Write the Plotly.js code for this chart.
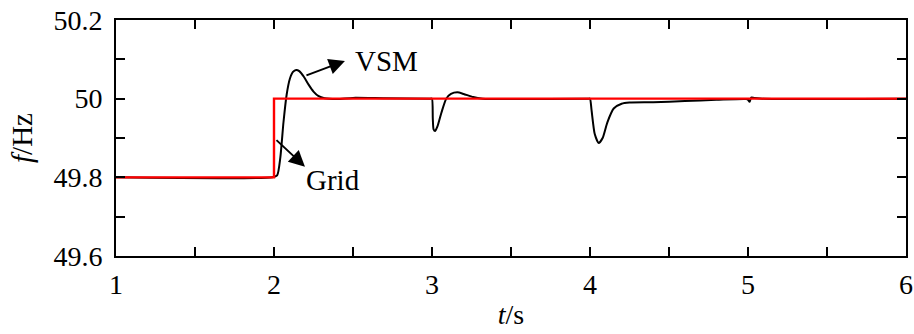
<!DOCTYPE html>
<html>
<head>
<meta charset="utf-8">
<script src="https://cdn.plot.ly/plotly-3.0.1.min.js"></script>
<style>html,body{margin:0;padding:0;background:#fff;}#chart{width:914px;height:334px;}</style>
</head>
<body>
<div id="chart"></div>
<script>
// VSM frequency response
const vsmT = [1.0, 1.99, 2.02, 2.04, 2.06, 2.08, 2.10, 2.12, 2.14, 2.16, 2.19, 2.22, 2.25, 2.28, 2.32, 2.40, 2.5, 2.7, 2.99,
  3.0, 3.005, 3.01, 3.02, 3.035, 3.06, 3.09, 3.12, 3.16, 3.2, 3.26, 3.32, 3.5, 3.99,
  4.0, 4.01, 4.03, 4.055, 4.08, 4.11, 4.15, 4.2, 4.25, 4.4, 4.6, 4.8, 4.99,
  5.0, 5.01, 5.02, 5.04, 5.1, 6.0];
const vsmF = [49.8, 49.8, 49.805, 49.85, 49.94, 50.01, 50.05, 50.068, 50.073, 50.07, 50.055, 50.035, 50.018, 50.007, 50.001, 49.999, 50.002, 50.001, 50.0,
  50.0, 49.95, 49.922, 49.918, 49.93, 49.965, 50.0, 50.012, 50.016, 50.012, 50.004, 50.0, 49.999, 50.0,
  50.0, 49.97, 49.91, 49.887, 49.9, 49.94, 49.975, 49.987, 49.99, 49.991, 49.994, 49.997, 49.999,
  49.997, 49.992, 50.003, 50.002, 50.0, 50.0];
// Grid frequency (step)
const gridT = [1.0, 2.0, 2.0, 6.0];
const gridF = [49.8, 49.8, 50.0, 50.0];
// Ticks
const xTickVals = [1, 1.5, 2, 2.5, 3, 3.5, 4, 4.5, 5, 5.5, 6];
const xTickText = ['1', '', '2', '', '3', '', '4', '', '5', '', '6'];
const yTickVals = [49.6, 49.7, 49.8, 49.9, 50.0, 50.1, 50.2];
const yTickText = ['49.6', '', '49.8', '', '50', '', '50.2'];

const FONT = "'Liberation Serif', serif";
const FS = 28;

const traces = [
  {x: vsmT, y: vsmF, type: 'scatter', mode: 'lines', name: 'VSM',
   line: {color: '#000000', width: 2, shape: 'spline', smoothing: 0.6}},
  {x: gridT, y: gridF, type: 'scatter', mode: 'lines', name: 'Grid',
   line: {color: '#ff0000', width: 2.4}}
];

const axisCommon = {
  showline: true, linecolor: '#000', linewidth: 2, mirror: 'ticks',
  ticks: 'inside', ticklen: 9, tickwidth: 2, tickcolor: '#000',
  showgrid: false, zeroline: false,
  tickfont: {family: FONT, size: FS, color: '#000'}
};

const layout = {
  width: 914, height: 334,
  margin: {l: 116, r: 8, t: 20, b: 78},
  paper_bgcolor: '#fff', plot_bgcolor: '#fff',
  font: {family: FONT, size: FS, color: '#000'},
  showlegend: false,
  xaxis: Object.assign({}, axisCommon, {
    range: [1, 6], tickmode: 'array', tickvals: xTickVals, ticktext: xTickText,
    ticklabelstandoff: 2,
    title: {text: '<i>t</i>/s', font: {family: FONT, size: 28, color: '#000'}, standoff: 6}
  }),
  yaxis: Object.assign({}, axisCommon, {
    range: [49.6, 50.2], tickmode: 'array', tickvals: yTickVals, ticktext: yTickText,
    ticklabelstandoff: 6,
    title: {text: '<i>f</i>/Hz', font: {family: FONT, size: 29, color: '#000'}, standoff: 12}
  }),
  annotations: [
    {x: 2.449, y: 50.096, xref: 'x', yref: 'y', ax: -40, ay: 15, text: '', showarrow: true,
     arrowhead: 2, arrowsize: 1.6, arrowwidth: 2, arrowcolor: '#000'},
    {x: 2.196, y: 49.827, xref: 'x', yref: 'y', ax: -30, ay: -28, text: '', showarrow: true,
     arrowhead: 2, arrowsize: 1.6, arrowwidth: 2, arrowcolor: '#000'},
    {x: 2.709, y: 50.096, xref: 'x', yref: 'y', text: 'VSM', showarrow: false,
     font: {family: FONT, size: 29, color: '#000'}},
    {x: 2.372, y: 49.793, xref: 'x', yref: 'y', text: 'Grid', showarrow: false,
     font: {family: FONT, size: 29, color: '#000'}}
  ]
};

Plotly.newPlot('chart', traces, layout, {displayModeBar: false, staticPlot: true});
</script>
</body>
</html>
